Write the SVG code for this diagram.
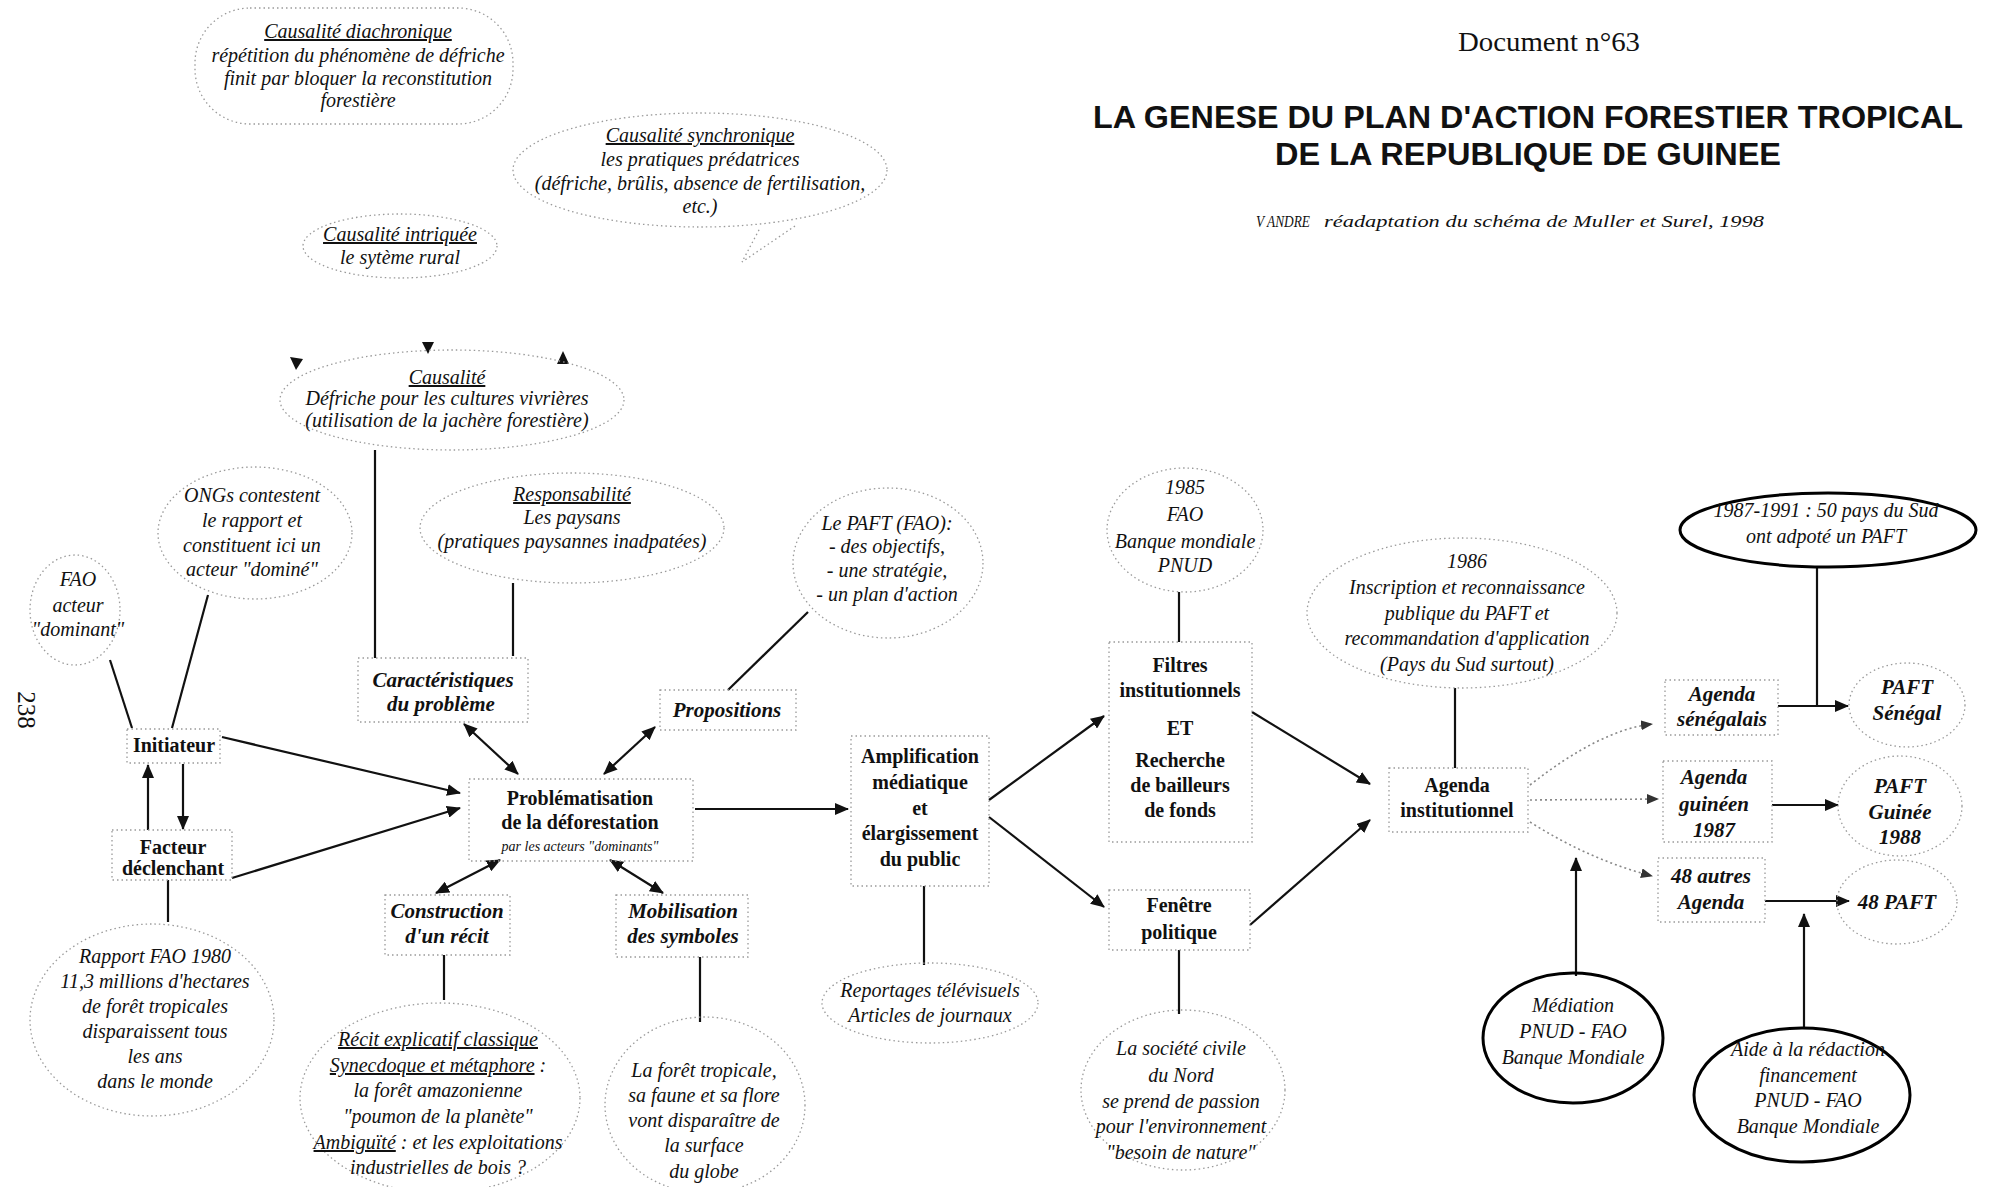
<svg xmlns="http://www.w3.org/2000/svg" width="2013" height="1187" viewBox="0 0 2013 1187">
<defs>
<style>
.t{font-family:"Liberation Serif","DejaVu Serif",serif;fill:#111;text-anchor:middle}
.i{font-style:italic;font-size:20px}
.b{font-weight:bold;font-size:20px}
.bi{font-weight:bold;font-style:italic;font-size:21px}
.s{font-style:italic;font-size:14px}
.u{text-decoration:underline}
.dot{fill:none;stroke:#9a9a9a;stroke-width:1.3;stroke-dasharray:1.5 3}
.solid{fill:none;stroke:#000;stroke-width:3}
.ln{stroke:#111;stroke-width:2.2;fill:none}
.dl{stroke:#888;stroke-width:1.6;stroke-dasharray:2 3;fill:none}
.ah{fill:#111}
</style>
<marker id="a" markerUnits="userSpaceOnUse" markerWidth="14" markerHeight="12" refX="13" refY="6" orient="auto-start-reverse">
<path d="M0,0 L14,6 L0,12 z" fill="#111"/>
</marker>
<marker id="ad" markerUnits="userSpaceOnUse" markerWidth="12" markerHeight="10" refX="11" refY="5" orient="auto">
<path d="M0,0 L12,5 L0,10 z" fill="#333"/>
</marker>
</defs>
<rect width="2013" height="1187" fill="#fff"/>

<g id="header">
<text class="t" x="1549" y="51" font-size="28" textLength="182" lengthAdjust="spacingAndGlyphs">Document n°63</text>
<text x="1528" y="128" font-family="Liberation Sans, Arial, sans-serif" font-weight="bold" font-size="32" text-anchor="middle" fill="#111" textLength="870" lengthAdjust="spacingAndGlyphs">LA GENESE DU PLAN D'ACTION FORESTIER TROPICAL</text>
<text x="1528" y="165" font-family="Liberation Sans, Arial, sans-serif" font-weight="bold" font-size="32" text-anchor="middle" fill="#111" textLength="506" lengthAdjust="spacingAndGlyphs">DE LA REPUBLIQUE DE GUINEE</text>
<text class="t i" x="1256" y="227" style="font-size:16px;text-anchor:start" textLength="54" lengthAdjust="spacingAndGlyphs">V ANDRE</text>
<text class="t i" x="1324" y="227" style="font-size:17px;text-anchor:start" textLength="440" lengthAdjust="spacingAndGlyphs">réadaptation du schéma de Muller et Surel, 1998</text>
<text class="t" x="18" y="710" font-size="25" transform="rotate(90 18 710)">238</text>
</g>

<g id="connectors">
<line class="ln" x1="110" y1="660" x2="132" y2="728"/>
<line class="ln" x1="208" y1="595" x2="172" y2="728"/>
<line class="ln" x1="222" y1="737" x2="460" y2="793" marker-end="url(#a)"/>
<line class="ln" x1="232" y1="878" x2="460" y2="808" marker-end="url(#a)"/>
<line class="ln" x1="148" y1="830" x2="148" y2="765" marker-end="url(#a)"/>
<line class="ln" x1="183" y1="764" x2="183" y2="829" marker-end="url(#a)"/>
<line class="ln" x1="168" y1="880" x2="168" y2="922"/>
<line class="ln" x1="375" y1="450" x2="375" y2="658"/>
<line class="ln" x1="513" y1="583" x2="513" y2="656"/>
<line class="ln" x1="464" y1="724" x2="518" y2="774" marker-start="url(#a)" marker-end="url(#a)"/>
<line class="ln" x1="655" y1="727" x2="604" y2="774" marker-start="url(#a)" marker-end="url(#a)"/>
<line class="ln" x1="728" y1="690" x2="808" y2="612"/>
<line class="ln" x1="500" y1="860" x2="436" y2="893" marker-start="url(#a)" marker-end="url(#a)"/>
<line class="ln" x1="610" y1="860" x2="663" y2="893" marker-start="url(#a)" marker-end="url(#a)"/>
<line class="ln" x1="444" y1="955" x2="444" y2="1000"/>
<line class="ln" x1="700" y1="957" x2="700" y2="1022"/>
<line class="ln" x1="695" y1="809" x2="848" y2="809" marker-end="url(#a)"/>
<line class="ln" x1="924" y1="886" x2="924" y2="965"/>
<line class="ln" x1="989" y1="800" x2="1104" y2="716" marker-end="url(#a)"/>
<line class="ln" x1="989" y1="817" x2="1104" y2="907" marker-end="url(#a)"/>
<line class="ln" x1="1179" y1="592" x2="1179" y2="642"/>
<line class="ln" x1="1179" y1="950" x2="1179" y2="1014"/>
<line class="ln" x1="1252" y1="712" x2="1370" y2="784" marker-end="url(#a)"/>
<line class="ln" x1="1250" y1="925" x2="1370" y2="820" marker-end="url(#a)"/>
<line class="ln" x1="1455" y1="688" x2="1455" y2="768"/>
<path class="dl" d="M1530,785 Q1600,730 1652,724" marker-end="url(#ad)"/>
<line class="dl" x1="1530" y1="800" x2="1658" y2="799" marker-end="url(#ad)"/>
<path class="dl" d="M1530,822 Q1590,860 1652,876" marker-end="url(#ad)"/>
<line class="ln" x1="1778" y1="706" x2="1848" y2="706" marker-end="url(#a)"/>
<line class="ln" x1="1817" y1="567" x2="1817" y2="706"/>
<line class="ln" x1="1772" y1="805" x2="1838" y2="805" marker-end="url(#a)"/>
<line class="ln" x1="1765" y1="901" x2="1849" y2="901" marker-end="url(#a)"/>
<line class="ln" x1="1576" y1="976" x2="1576" y2="858" marker-end="url(#a)"/>
<line class="ln" x1="1804" y1="1027" x2="1804" y2="914" marker-end="url(#a)"/>
<polygon class="ah" points="290,357 303,359 296,370"/>
<polygon class="ah" points="422,342 434,342 428,354"/>
<polygon class="ah" points="563,351 569,364 557,364"/>
<path class="dot" d="M795,226 L742,262 L760,228"/>
</g>

<g id="n-diachronique">
<rect class="dot" x="195" y="8" width="318" height="116" rx="55"/>
<text class="t i u" x="358" y="38">Causalité diachronique</text>
<text class="t i" x="358" y="62">répétition du phénomène de défriche</text>
<text class="t i" x="358" y="85">finit par bloquer la reconstitution</text>
<text class="t i" x="358" y="107">forestière</text>
</g>

<g id="n-synchronique">
<ellipse class="dot" cx="700" cy="170" rx="187" ry="57"/>
<text class="t i u" x="700" y="142">Causalité synchronique</text>
<text class="t i" x="700" y="166">les pratiques prédatrices</text>
<text class="t i" x="700" y="190">(défriche, brûlis, absence de fertilisation,</text>
<text class="t i" x="700" y="213">etc.)</text>
</g>

<g id="n-intriquee">
<ellipse class="dot" cx="400" cy="246" rx="97" ry="32"/>
<text class="t i u" x="400" y="241">Causalité intriquée</text>
<text class="t i" x="400" y="264">le sytème rural</text>
</g>

<g id="n-causalite">
<ellipse class="dot" cx="452" cy="400" rx="172" ry="50"/>
<text class="t i u" x="447" y="384">Causalité</text>
<text class="t i" x="447" y="405">Défriche pour les cultures vivrières</text>
<text class="t i" x="447" y="427">(utilisation de la jachère forestière)</text>
</g>

<g id="n-responsabilite">
<ellipse class="dot" cx="572" cy="528" rx="152" ry="55"/>
<text class="t i u" x="572" y="501">Responsabilité</text>
<text class="t i" x="572" y="524">Les paysans</text>
<text class="t i" x="572" y="548">(pratiques paysannes inadpatées)</text>
</g>

<g id="n-fao">
<ellipse class="dot" cx="75" cy="610" rx="45" ry="55"/>
<text class="t i" x="78" y="586">FAO</text>
<text class="t i" x="78" y="612">acteur</text>
<text class="t i" x="78" y="636">"dominant"</text>
</g>

<g id="n-ongs">
<ellipse class="dot" cx="255" cy="533" rx="97" ry="66"/>
<text class="t i" x="252" y="502">ONGs contestent</text>
<text class="t i" x="252" y="527">le rapport et</text>
<text class="t i" x="252" y="552">constituent ici un</text>
<text class="t i" x="252" y="576">acteur "dominé"</text>
</g>

<g id="n-initiateur">
<rect class="dot" x="127" y="729" width="93" height="34"/>
<text class="t b" x="174" y="752">Initiateur</text>
</g>

<g id="n-facteur">
<rect class="dot" x="112" y="830" width="120" height="50"/>
<text class="t b" x="173" y="854">Facteur</text>
<text class="t b" x="173" y="875">déclenchant</text>
</g>

<g id="n-rapport">
<ellipse class="dot" cx="152" cy="1020" rx="122" ry="96"/>
<text class="t i" x="155" y="963">Rapport FAO 1980</text>
<text class="t i" x="155" y="988">11,3 millions d'hectares</text>
<text class="t i" x="155" y="1013">de forêt tropicales</text>
<text class="t i" x="155" y="1038">disparaissent tous</text>
<text class="t i" x="155" y="1063">les ans</text>
<text class="t i" x="155" y="1088">dans le monde</text>
</g>

<g id="n-caracteristiques">
<rect class="dot" x="358" y="658" width="170" height="64"/>
<text class="t bi" x="443" y="687">Caractéristiques</text>
<text class="t bi" x="441" y="711">du problème</text>
</g>

<g id="n-propositions">
<rect class="dot" x="660" y="690" width="136" height="40"/>
<text class="t bi" x="727" y="717">Propositions</text>
</g>

<g id="n-paft-fao">
<ellipse class="dot" cx="888" cy="563" rx="95" ry="75"/>
<text class="t i" x="887" y="530">Le PAFT (FAO):</text>
<text class="t i" x="887" y="553">- des objectifs,</text>
<text class="t i" x="887" y="577">- une stratégie,</text>
<text class="t i" x="887" y="601">- un plan d'action</text>
</g>

<g id="n-problematisation">
<rect class="dot" x="469" y="779" width="224" height="82"/>
<text class="t b" x="580" y="805">Problématisation</text>
<text class="t b" x="580" y="829">de la déforestation</text>
<text class="t s" x="580" y="851">par les acteurs "dominants"</text>
</g>

<g id="n-construction">
<rect class="dot" x="385" y="895" width="125" height="60"/>
<text class="t bi" x="447" y="918">Construction</text>
<text class="t bi" x="447" y="943">d'un récit</text>
</g>

<g id="n-mobilisation">
<rect class="dot" x="616" y="895" width="132" height="62"/>
<text class="t bi" x="683" y="918">Mobilisation</text>
<text class="t bi" x="683" y="943">des symboles</text>
</g>

<g id="n-recit">
<ellipse class="dot" cx="440" cy="1098" rx="140" ry="95"/>
<text class="t i u" x="438" y="1046">Récit explicatif classique</text>
<text class="t i" x="438" y="1072"><tspan class="u">Synecdoque et métaphore</tspan> :</text>
<text class="t i" x="438" y="1097">la forêt amazonienne</text>
<text class="t i" x="438" y="1123">"poumon de la planète"</text>
<text class="t i" x="438" y="1149"><tspan class="u">Ambiguïté</tspan> : et les exploitations</text>
<text class="t i" x="438" y="1174">industrielles de bois ?</text>
</g>

<g id="n-foret">
<ellipse class="dot" cx="705" cy="1105" rx="100" ry="88"/>
<text class="t i" x="704" y="1077">La forêt tropicale,</text>
<text class="t i" x="704" y="1102">sa faune et sa flore</text>
<text class="t i" x="704" y="1127">vont disparaître de</text>
<text class="t i" x="704" y="1152">la surface</text>
<text class="t i" x="704" y="1178">du globe</text>
</g>

<g id="n-amplification">
<rect class="dot" x="851" y="736" width="138" height="150"/>
<text class="t b" x="920" y="763">Amplification</text>
<text class="t b" x="920" y="789">médiatique</text>
<text class="t b" x="920" y="815">et</text>
<text class="t b" x="920" y="840">élargissement</text>
<text class="t b" x="920" y="866">du public</text>
</g>

<g id="n-reportages">
<ellipse class="dot" cx="930" cy="1003" rx="108" ry="40"/>
<text class="t i" x="930" y="997">Reportages télévisuels</text>
<text class="t i" x="930" y="1022">Articles de journaux</text>
</g>

<g id="n-1985">
<ellipse class="dot" cx="1185" cy="530" rx="78" ry="62"/>
<text class="t i" x="1185" y="494">1985</text>
<text class="t i" x="1185" y="521">FAO</text>
<text class="t i" x="1185" y="548">Banque mondiale</text>
<text class="t i" x="1185" y="572">PNUD</text>
</g>

<g id="n-filtres">
<rect class="dot" x="1109" y="642" width="143" height="200"/>
<text class="t b" x="1180" y="672">Filtres</text>
<text class="t b" x="1180" y="697">institutionnels</text>
<text class="t b" x="1180" y="735">ET</text>
<text class="t b" x="1180" y="767">Recherche</text>
<text class="t b" x="1180" y="792">de bailleurs</text>
<text class="t b" x="1180" y="817">de fonds</text>
</g>

<g id="n-fenetre">
<rect class="dot" x="1109" y="890" width="141" height="60"/>
<text class="t b" x="1179" y="912">Fenêtre</text>
<text class="t b" x="1179" y="939">politique</text>
</g>

<g id="n-societe">
<ellipse class="dot" cx="1183" cy="1090" rx="102" ry="80"/>
<text class="t i" x="1181" y="1055">La société civile</text>
<text class="t i" x="1181" y="1082">du Nord</text>
<text class="t i" x="1181" y="1108">se prend de passion</text>
<text class="t i" x="1181" y="1133">pour l'environnement</text>
<text class="t i" x="1181" y="1159">"besoin de nature"</text>
</g>

<g id="n-1986">
<ellipse class="dot" cx="1462" cy="613" rx="155" ry="75"/>
<text class="t i" x="1467" y="568">1986</text>
<text class="t i" x="1467" y="594">Inscription et reconnaissance</text>
<text class="t i" x="1467" y="620">publique du PAFT et</text>
<text class="t i" x="1467" y="645">recommandation d'application</text>
<text class="t i" x="1467" y="671">(Pays du Sud surtout)</text>
</g>

<g id="n-agenda-inst">
<rect class="dot" x="1389" y="768" width="139" height="64"/>
<text class="t b" x="1457" y="792">Agenda</text>
<text class="t b" x="1457" y="817">institutionnel</text>
</g>

<g id="n-agenda-sen">
<rect class="dot" x="1665" y="680" width="113" height="55"/>
<text class="t bi" x="1722" y="701">Agenda</text>
<text class="t bi" x="1722" y="726">sénégalais</text>
</g>

<g id="n-agenda-gui">
<rect class="dot" x="1663" y="761" width="109" height="81"/>
<text class="t bi" x="1714" y="784">Agenda</text>
<text class="t bi" x="1714" y="811">guinéen</text>
<text class="t bi" x="1714" y="837">1987</text>
</g>

<g id="n-48-autres">
<rect class="dot" x="1658" y="858" width="107" height="64"/>
<text class="t bi" x="1711" y="883">48 autres</text>
<text class="t bi" x="1711" y="909">Agenda</text>
</g>

<g id="n-paft-sen">
<ellipse class="dot" cx="1907" cy="705" rx="58" ry="42"/>
<text class="t bi" x="1907" y="694">PAFT</text>
<text class="t bi" x="1907" y="720">Sénégal</text>
</g>

<g id="n-paft-gui">
<ellipse class="dot" cx="1900" cy="806" rx="62" ry="50"/>
<text class="t bi" x="1900" y="793">PAFT</text>
<text class="t bi" x="1900" y="819">Guinée</text>
<text class="t bi" x="1900" y="844">1988</text>
</g>

<g id="n-48-paft">
<ellipse class="dot" cx="1897" cy="902" rx="60" ry="42"/>
<text class="t bi" x="1897" y="909">48 PAFT</text>
</g>

<g id="n-1987-1991">
<ellipse class="solid" cx="1828" cy="530" rx="148" ry="37"/>
<text class="t i" x="1826" y="517">1987-1991 : 50 pays du Sud</text>
<text class="t i" x="1826" y="543">ont adpoté un PAFT</text>
</g>

<g id="n-mediation">
<ellipse class="solid" cx="1573" cy="1038" rx="90" ry="65"/>
<text class="t i" x="1573" y="1012">Médiation</text>
<text class="t i" x="1573" y="1038">PNUD - FAO</text>
<text class="t i" x="1573" y="1064">Banque Mondiale</text>
</g>

<g id="n-aide">
<ellipse class="solid" cx="1802" cy="1095" rx="108" ry="67"/>
<text class="t i" x="1808" y="1056">Aide à la rédaction</text>
<text class="t i" x="1808" y="1082">financement</text>
<text class="t i" x="1808" y="1107">PNUD - FAO</text>
<text class="t i" x="1808" y="1133">Banque Mondiale</text>
</g>
</svg>
